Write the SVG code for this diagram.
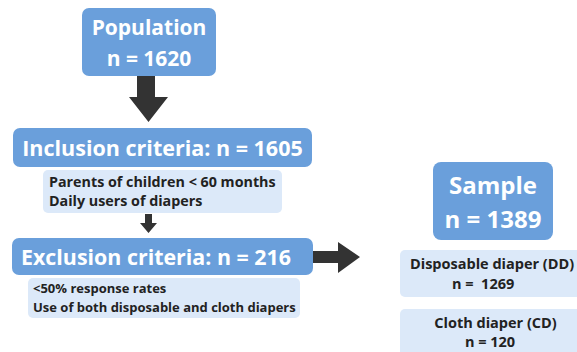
<svg xmlns="http://www.w3.org/2000/svg" width="577" height="352" viewBox="0 0 577 352">
<style>
.main{fill:#6a9fdb}
.sub{fill:#dce9f9}
.arr{fill:#333333}
.t1{font-family:"Open Sans","Noto Sans",sans-serif;font-weight:700;fill:#ffffff}
.t2{font-family:"Open Sans","Noto Sans",sans-serif;font-weight:700;fill:#222222}
</style>
<rect width="577" height="352" fill="#ffffff"/>
<g id="connectors">
<polygon class="arr" points="137,76 155,76 155,97 168,97 148.5,122 129,97 137,97"/>
<polygon class="arr" points="145,214 152,214 152,223 157,223 148.5,233 140,223 145,223"/>
<polygon class="arr" points="313,251 338,251 338,242 360,257 338,273 338,263 313,263"/>
</g>
<g id="population">
<rect class="main" x="82" y="8" width="134" height="68" rx="7"/>
<text class="t1" x="149" y="35" font-size="21" text-anchor="middle">Population</text>
<text class="t1" x="149" y="66" font-size="21" text-anchor="middle">n = 1620</text>
</g>
<g id="inclusion">
<rect class="main" x="13" y="128" width="299" height="39" rx="7"/>
<text class="t1" x="162.5" y="155.5" font-size="21.5" text-anchor="middle">Inclusion criteria: n = 1605</text>
</g>
<g id="inclusion-details">
<rect class="sub" x="43" y="170" width="239" height="43" rx="5"/>
<text class="t2" x="49" y="187" font-size="14.3">Parents of children &lt; 60 months</text>
<text class="t2" x="49" y="206" font-size="14.3">Daily users of diapers</text>
</g>
<g id="exclusion">
<rect class="main" x="12" y="238" width="301" height="37" rx="7"/>
<text class="t1" x="21" y="264.5" font-size="21.4">Exclusion criteria: n = 216</text>
</g>
<g id="exclusion-details">
<rect class="sub" x="28" y="278" width="272" height="40" rx="5"/>
<text class="t2" x="33" y="293" font-size="13">&lt;50% response rates</text>
<text class="t2" x="33" y="312" font-size="13">Use of both disposable and cloth diapers</text>
</g>
<g id="sample">
<rect class="main" x="433" y="162" width="120" height="78" rx="8"/>
<text class="t1" x="493" y="194" font-size="24" text-anchor="middle">Sample</text>
<text class="t1" x="493" y="228" font-size="24" text-anchor="middle">n = 1389</text>
</g>
<g id="dd">
<rect class="sub" x="400" y="250" width="190" height="47" rx="5"/>
<text class="t2" x="410" y="269" font-size="14.5">Disposable diaper (DD)</text>
<text class="t2" x="452" y="289" font-size="14.5" xml:space="preserve">n =  1269</text>
</g>
<g id="cd">
<rect class="sub" x="400" y="309" width="190" height="60" rx="5"/>
<text class="t2" x="495.5" y="328" font-size="14.5" text-anchor="middle">Cloth diaper (CD)</text>
<text class="t2" x="490" y="347" font-size="14.5" text-anchor="middle">n = 120</text>
</g>
</svg>
